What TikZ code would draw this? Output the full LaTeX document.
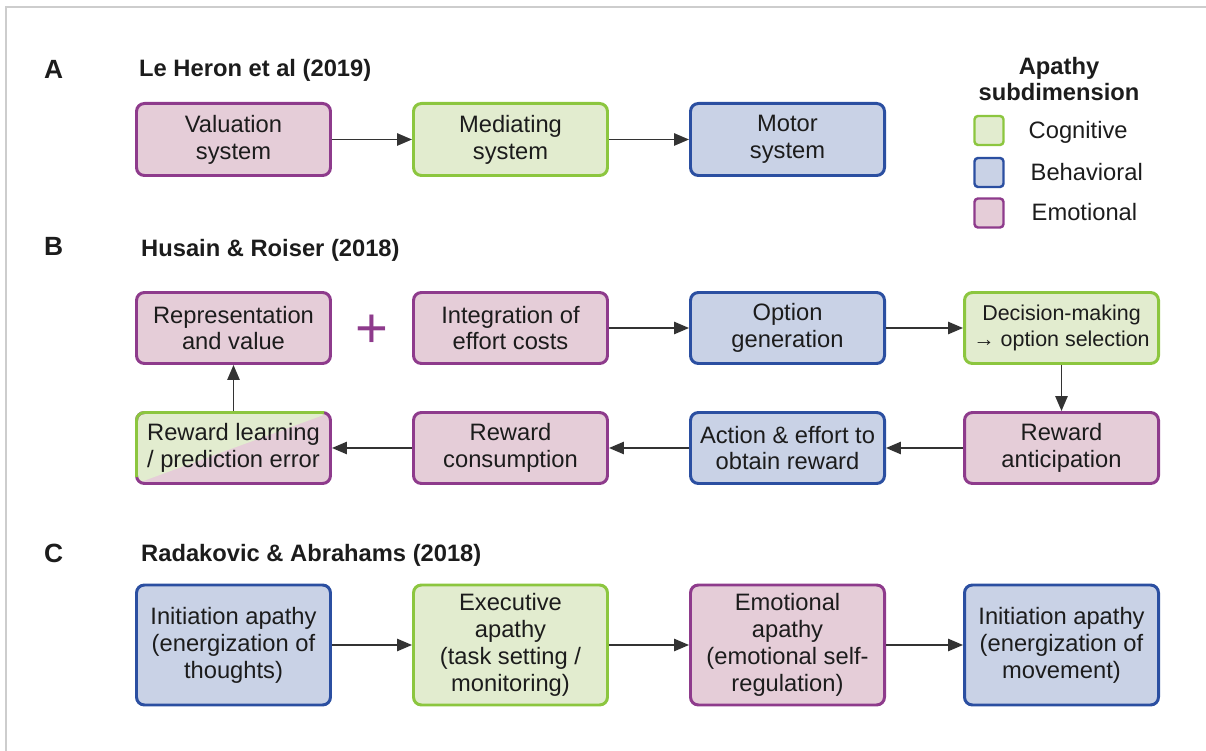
\documentclass[tikz,border=0pt]{standalone}
\usepackage{fontspec}
\setmainfont{Liberation Sans}
\usepackage{xcolor}
\usepackage{tikz}
\usetikzlibrary{arrows.meta,calc}
\definecolor{ink}     {HTML}{1C1C1C}
\definecolor{wire}    {HTML}{333333}
\definecolor{rule}    {HTML}{CDCDCD}
\definecolor{emofill} {HTML}{E5CDD8}
\definecolor{emoline} {HTML}{8E3B8C}
\definecolor{cogfill} {HTML}{E2ECCF}
\definecolor{cogline} {HTML}{8CC63F}
\definecolor{behfill} {HTML}{C9D2E6}
\definecolor{behline} {HTML}{2B4FA1}

\tikzset{
  box/.style={rounded corners=4.5pt, line width=1.7pt, minimum width=3.88cm,
              inner sep=2pt, align=center, text=ink,
              font=\fontsize{13.5}{15.3}\selectfont},
  emobox/.style={box, draw=emoline, fill=emofill},
  cogbox/.style={box, draw=cogline, fill=cogfill},
  behbox/.style={box, draw=behline, fill=behfill},
  legbox/.style={minimum size=0.58cm, inner sep=0pt, rounded corners=2pt,
                 line width=1.4pt},
  flow/.style={-{Triangle[length=8.5pt,width=7pt]}, line width=1pt, wire},
  panel/.style={anchor=west, text=ink, font=\fontsize{15}{16}\selectfont\bfseries},
  heading/.style={anchor=west, text=ink, font=\fontsize{13.5}{15}\selectfont\bfseries},
}

\begin{document}
\begin{tikzpicture}[scale=1.0]
 \useasboundingbox (0,0) rectangle (24.12,-15.02);
 \draw[rule, line width=0.9pt] (0.12,-15.02) -- (0.12,-0.14) -- (24.12,-0.14);

 % legend
 \node[text=ink, align=center, font=\fontsize{13.5}{15.3}\selectfont\bfseries]
   (legtitle) at (21.18,-1.58) {Apathy\\subdimension};
 \node[legbox, draw=cogline, fill=cogfill] (legcog) at (19.78,-2.61) {};
 \node[legbox, draw=behline, fill=behfill] (legbeh) at (19.78,-3.45) {};
 \node[legbox, draw=emoline, fill=emofill] (legemo) at (19.78,-4.26) {};
 \node[anchor=west, text=ink, font=\fontsize{13.5}{15}\selectfont] (labcog) at (20.45,-2.64) {Cognitive};
 \node[anchor=west, text=ink, font=\fontsize{13.5}{15}\selectfont] (labbeh) at (20.49,-3.45) {Behavioral};
 \node[anchor=west, text=ink, font=\fontsize{13.5}{15}\selectfont] (labemo) at (20.51,-4.25) {Emotional};

 % A
 \node[panel]   (pa) at (0.76,-1.38) {A};
 \node[heading] (ta) at (2.66,-1.40) {Le Heron et al (2019)};
 \node[emobox, minimum height=1.44cm] (val) at (4.67,-2.79)  {Valuation\\system};
 \node[cogbox, minimum height=1.44cm] (med) at (10.21,-2.79) {Mediating\\system};
 \node[behbox, minimum height=1.44cm] (mot) at (15.75,-2.79) {Motor\\system};
 \draw[flow] (val.east) -- (med.west);
 \draw[flow] (med.east) -- (mot.west);

 % B
 \node[panel]   (pb) at (0.76,-4.92) {B};
 \node[heading] (tb) at (2.70,-5.00) {Husain \& Roiser (2018)};
 \node[emobox, minimum height=1.42cm] (repr)   at (4.67,-6.56)  {Representation\\and value};
 \node[text=emoline, font=\fontsize{32}{32}\selectfont] (plus) at (7.44,-6.62) {+};
 \node[emobox, minimum height=1.42cm] (integ)  at (10.21,-6.56) {Integration of\\effort costs};
 \node[behbox, minimum height=1.42cm] (optgen) at (15.75,-6.56) {Option\\generation};
 \node[cogbox, minimum height=1.42cm, font=\fontsize{12.2}{14.4}\selectfont]
   (decide) at (21.23,-6.56) {Decision-making\\→ option selection};
 \node[emobox, minimum height=1.42cm] (antic)   at (21.23,-8.96) {Reward\\anticipation};
 \node[behbox, minimum height=1.42cm] (action)  at (15.75,-8.96) {Action \& effort to\\obtain reward};
 \node[emobox, minimum height=1.42cm] (consume) at (10.21,-8.96) {Reward\\consumption};
 \node[emobox, minimum height=1.42cm, path picture={
     \fill[cogfill] (path picture bounding box.south west)
       -- (path picture bounding box.north west)
       -- (path picture bounding box.north east) -- cycle;}]
   (rlearn) at (4.67,-8.96) {Reward learning\\/ prediction error};
 % green edge on the learning box (top and left)
 \draw[cogline, line width=1.7pt, rounded corners=4.5pt]
   ([shift={(0.85pt,4.5pt)}]rlearn.south west)
   -- ([shift={(0.85pt,-0.85pt)}]rlearn.north west)
   -- ([shift={(-4.5pt,-0.85pt)}]rlearn.north east);
 \draw[flow] (integ.east)   -- (optgen.west);
 \draw[flow] (optgen.east)  -- (decide.west);
 \draw[flow] (decide.south) -- (antic.north);
 \draw[flow] (antic.west)   -- (action.east);
 \draw[flow] (action.west)  -- (consume.east);
 \draw[flow] (consume.west) -- (rlearn.east);
 \draw[flow] (rlearn.north) -- (repr.south);

 % C
 \node[panel]   (pc) at (0.76,-11.06) {C};
 \node[heading] (tc) at (2.70,-11.10) {Radakovic \& Abrahams (2018)};
 \node[behbox, minimum height=2.40cm] (initT) at (4.67,-12.9)  {Initiation apathy\\(energization of\\thoughts)};
 \node[cogbox, minimum height=2.40cm] (exec)  at (10.21,-12.9) {Executive\\apathy\\(task setting /\\monitoring)};
 \node[emobox, minimum height=2.40cm] (emoap) at (15.75,-12.9) {Emotional\\apathy\\(emotional self-\\regulation)};
 \node[behbox, minimum height=2.40cm] (initM) at (21.23,-12.9) {Initiation apathy\\(energization of\\movement)};
 \draw[flow] (initT.east) -- (exec.west);
 \draw[flow] (exec.east)  -- (emoap.west);
 \draw[flow] (emoap.east) -- (initM.west);
\end{tikzpicture}
\end{document}
